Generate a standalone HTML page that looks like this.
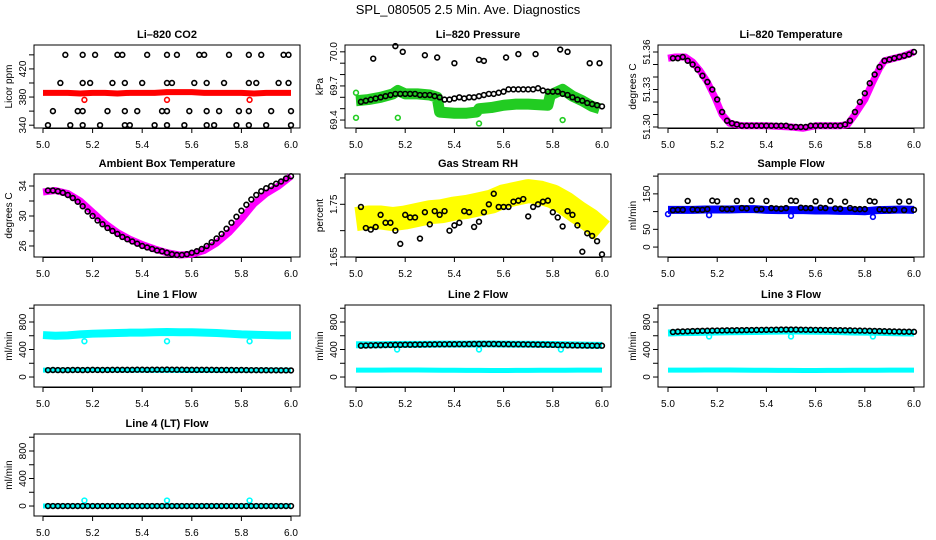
<!DOCTYPE html>
<html><head><meta charset="utf-8">
<style>
html,body{margin:0;padding:0;background:#fff;}
svg{display:block;font-family:"Liberation Sans",Arial,sans-serif;}
</style></head>
<body>
<svg id="chart" width="936" height="540" viewBox="0 0 936 540">
<text x="468" y="14" text-anchor="middle" font-size="13">SPL_080505  2.5 Min. Ave. Diagnostics</text>
</svg>
<script>
// ---- shared data ----
const xTicks = [5.0, 5.2, 5.4, 5.6, 5.8, 6.0];
const xTickLabels = ["5.0", "5.2", "5.4", "5.6", "5.8", "6.0"];
const blackT = [5.02,5.04,5.06,5.08,5.10,5.12,5.14,5.16,5.18,5.20,5.22,5.24,5.26,5.28,5.30,5.32,5.34,5.36,5.38,5.40,5.42,5.44,5.46,5.48,5.50,5.52,5.54,5.56,5.58,5.60,5.62,5.64,5.66,5.68,5.70,5.72,5.74,5.76,5.78,5.80,5.82,5.84,5.86,5.88,5.90,5.92,5.94,5.96,5.98,6.00];
const bandT = [5.0,5.05,5.1,5.15,5.2,5.25,5.3,5.35,5.4,5.45,5.5,5.55,5.6,5.65,5.7,5.75,5.8,5.85,5.9,5.95,6.0];
const outT = [5.167, 5.5, 5.833];

// CO2
const co2BandY = [386,386,386,385,386,386,385,386,386,386,387,387,387,386,386,386,386,385,386,386,386];
const co2OutX = [5.167,5.5,5.833];
const co2OutY = [376,376,376];
const co2BlackX = [5.09,5.16,5.21,5.30,5.32,5.42,5.50,5.54,5.63,5.65,5.75,5.83,5.88,5.97,5.99,5.07,5.16,5.19,5.28,5.33,5.40,5.50,5.52,5.61,5.66,5.73,5.83,5.86,5.95,5.99,5.04,5.14,5.16,5.26,5.33,5.38,5.48,5.50,5.59,5.66,5.71,5.79,5.83,5.92,6.0,5.02,5.11,5.16,5.23,5.33,5.35,5.45,5.50,5.57,5.66,5.69,5.78,5.83,5.90,6.0];
const co2BlackY = [440,440,440,440,440,440,440,440,440,440,440,440,440,440,440,400,400,400,400,400,400,400,400,400,400,400,400,400,400,400,360,360,360,360,360,360,360,360,360,360,360,360,360,360,360,340,340,340,340,340,340,340,340,340,340,340,340,340,340,340];

// Pressure
const presBandX = [5.0,5.05,5.1,5.15,5.17,5.2,5.25,5.3,5.33,5.34,5.4,5.45,5.49,5.5,5.55,5.6,5.65,5.7,5.78,5.79,5.82,5.84,5.88,5.92,5.96,5.99];
const presBandY = [69.57,69.58,69.60,69.63,69.66,69.63,69.63,69.62,69.60,69.47,69.46,69.46,69.47,69.50,69.51,69.53,69.54,69.54,69.53,69.62,69.65,69.67,69.61,69.57,69.52,69.50];
const presGreenOutX = [5.0,5.0,5.17,5.5,5.84];
const presGreenOutY = [69.42,69.64,69.42,69.37,69.40];
const presBlackY = [69.56,69.57,69.58,69.59,69.60,69.61,69.62,69.63,69.63,69.63,69.63,69.63,69.62,69.62,69.62,69.61,69.60,69.58,69.58,69.59,69.60,69.59,69.60,69.60,69.61,69.62,69.63,69.63,69.64,69.65,69.67,69.67,69.67,69.67,69.67,69.67,69.68,69.66,69.65,69.65,69.65,69.63,69.62,69.60,69.58,69.57,69.55,69.54,69.53,69.52];
const presHiX = [5.07,5.16,5.19,5.28,5.33,5.40,5.50,5.52,5.61,5.66,5.73,5.83,5.86,5.95,5.99];
const presHiY = [69.94,70.05,70.00,69.97,69.95,69.90,69.93,69.92,69.95,69.98,69.98,70.02,70.00,69.90,69.90];

// Li-820 temperature
const tempBandX = [5.0,5.03,5.07,5.1,5.13,5.16,5.19,5.22,5.25,5.3,5.4,5.5,5.55,5.6,5.7,5.73,5.76,5.8,5.83,5.86,5.88,5.92,5.96,6.0];
const tempBandY = [51.355,51.356,51.356,51.352,51.345,51.336,51.324,51.310,51.303,51.301,51.301,51.300,51.299,51.301,51.301,51.302,51.310,51.322,51.335,51.347,51.353,51.355,51.357,51.360];
const tempBlackY = [51.355,51.355,51.356,51.353,51.350,51.346,51.341,51.336,51.330,51.322,51.312,51.305,51.303,51.302,51.301,51.301,51.301,51.301,51.301,51.301,51.301,51.301,51.301,51.301,51.300,51.300,51.300,51.300,51.301,51.301,51.301,51.301,51.301,51.301,51.301,51.302,51.305,51.312,51.320,51.327,51.335,51.342,51.348,51.353,51.354,51.355,51.356,51.357,51.358,51.360];

// Ambient
const ambBandY = [33.2,33.4,33.0,32.0,30.5,29.0,27.8,26.9,26.2,25.6,25.1,24.8,24.9,25.4,26.4,27.8,29.6,31.6,33.0,34.0,35.3];
const ambBlackY = [33.4,33.4,33.3,33.1,32.8,32.4,31.9,31.3,30.6,30.0,29.4,28.9,28.4,28.0,27.6,27.2,26.9,26.6,26.3,26.0,25.8,25.6,25.4,25.3,25.1,24.9,24.8,24.8,24.9,25.1,25.3,25.6,26.0,26.5,27.0,27.6,28.3,29.1,29.9,30.7,31.5,32.2,32.8,33.3,33.7,34.0,34.3,34.6,35.0,35.3];

// RH
const rhBandY = [1.722,1.725,1.725,1.722,1.725,1.73,1.735,1.737,1.742,1.745,1.75,1.755,1.765,1.77,1.775,1.772,1.765,1.752,1.735,1.72,1.70];
const rhBlackY = [1.745,1.705,1.702,1.707,1.730,1.715,1.715,1.700,1.675,1.730,1.725,1.725,1.685,1.735,1.712,1.737,1.730,1.737,1.700,1.710,1.715,1.737,1.735,1.707,1.717,1.735,1.750,1.770,1.745,1.745,1.745,1.755,1.757,1.760,1.727,1.745,1.750,1.755,1.757,1.735,1.725,1.708,1.737,1.730,1.710,1.660,1.695,1.690,1.680,1.655];

// Sample flow
const sfBandY = [105,105,105,106,106,106,107,107,105,104,104,104,103,103,102,102,101,104,105,106,105];
const sfOutX = [5.0,5.167,5.5,5.833];
const sfOutY = [93,90,88,85];
const sfBlackY = [104,105,105,130,106,105,105,107,131,129,108,107,107,130,110,109,131,106,107,130,110,109,108,110,131,130,111,110,110,129,111,110,130,109,108,128,110,107,107,107,130,128,106,105,104,105,128,104,129,105];

// Line flows
const lowCyanY = [100,100,100,102,103,103,100,98,98,97,96,95,95,96,97,98,98,99,100,100,100];
const l1BandY = [610,600,605,620,630,635,640,645,645,650,655,650,650,645,640,630,620,615,610,605,605];
const l1OutY = [520,520,520];
const l1BlackY = [100,102,101,100,101,102,103,101,102,104,103,102,103,104,104,105,104,105,106,106,105,106,107,106,108,107,106,106,105,105,104,105,104,104,103,103,102,102,101,102,101,100,100,99,99,98,98,97,97,96];
const l2BandY = [470,468,470,472,474,475,476,478,478,479,480,480,478,477,476,475,473,470,465,462,460];
const l2OutY = [400,400,400];
const l2BlackY = [455,458,460,462,463,465,466,468,468,470,470,471,472,473,474,475,476,476,477,477,478,478,479,480,480,481,480,480,479,478,477,476,476,475,474,473,472,471,470,468,466,464,462,460,459,458,457,456,455,455];
const l3BandY = [640,645,648,650,655,658,660,662,665,668,670,668,665,663,660,655,652,650,645,642,640];
const l3OutY = [590,590,590];
const l3BlackY = [655,660,662,665,668,670,672,673,675,676,677,678,679,680,681,682,683,684,685,686,687,688,689,690,690,689,688,687,686,685,684,683,682,681,680,679,678,676,675,673,672,670,668,666,664,662,660,659,658,657];
const l4BandY = [0,0,0,0,0,0,0,0,0,0,0,0,0,0,0,0,0,0,0,0,0];
const l4OutY = [80,80,80];
const l4BlackY = [0,0,0,0,0,0,0,0,0,0,0,0,0,0,0,0,0,0,0,0,0,0,0,0,0,0,0,0,0,0,0,0,0,0,0,0,0,0,0,0,0,0,0,0,0,0,0,0,0,0];

// ---- rendering ----
const NS = "http://www.w3.org/2000/svg";
const svg = document.getElementById("chart");
function mk(tag, parent){ const e = document.createElementNS(NS, tag); parent.appendChild(e); return e; }
const cols = [{l:34,r:300,x0:43,x1:291},{l:345,r:611,x0:356,x1:602},{l:658,r:924,x0:668,x1:914}];
const rows = [{t:45,b:128},{t:174,b:257},{t:305,b:387},{t:434,b:516}];

function panel(name, title, ci, ri, ylo, yhi, yTicks, yLabels, ylab){
  const c = cols[ci], r = rows[ri];
  const g = mk("g", svg);
  
  
  const xs = v => c.x0 + (v - 5.0) * (c.x1 - c.x0);
  const ys = v => r.b - (v - ylo) / (yhi - ylo) * (r.b - r.t);
  const tt = mk("text", g);
  
  
  tt.setAttribute("x", (c.l + c.r) / 2); tt.setAttribute("y", r.t - 7);
  tt.setAttribute("text-anchor", "middle"); tt.setAttribute("font-size", "11"); tt.setAttribute("font-weight", "bold");
  tt.textContent = title;
  const box = mk("rect", g);
  
  
  box.setAttribute("x", c.l); box.setAttribute("y", r.t); box.setAttribute("width", c.r - c.l); box.setAttribute("height", r.b - r.t);
  box.setAttribute("fill", "none"); box.setAttribute("stroke", "#000"); box.setAttribute("stroke-width", "1");
  const xa = mk("g", g);
  
  
  const xl = mk("line", xa);
  xl.setAttribute("x1", xs(xTicks[0])); xl.setAttribute("x2", xs(xTicks[xTicks.length-1]));
  xl.setAttribute("y1", r.b + 0.5); xl.setAttribute("y2", r.b + 0.5); xl.setAttribute("stroke", "#000");
  xTicks.forEach((v, i) => {
    const tk = mk("line", xa);
    tk.setAttribute("x1", xs(v)); tk.setAttribute("x2", xs(v)); tk.setAttribute("y1", r.b); tk.setAttribute("y2", r.b + 5); tk.setAttribute("stroke", "#000");
    const lb = mk("text", xa);
    
    
    lb.setAttribute("x", xs(v)); lb.setAttribute("y", r.b + 20); lb.setAttribute("text-anchor", "middle"); lb.setAttribute("font-size", "10");
    lb.textContent = xTickLabels[i];
  });
  const ya = mk("g", g);
  
  
  const yl = mk("line", ya);
  yl.setAttribute("x1", c.l); yl.setAttribute("x2", c.l);
  yl.setAttribute("y1", ys(yTicks[0])); yl.setAttribute("y2", ys(yTicks[yTicks.length-1])); yl.setAttribute("stroke", "#000");
  yTicks.forEach((v, i) => {
    const tk = mk("line", ya);
    tk.setAttribute("x1", c.l - 5); tk.setAttribute("x2", c.l); tk.setAttribute("y1", ys(v)); tk.setAttribute("y2", ys(v)); tk.setAttribute("stroke", "#000");
    if (yLabels[i]) {
      const lb = mk("text", ya);
      
      
      const px = c.l - 8, py = ys(v);
      lb.setAttribute("transform", `translate(${px},${py}) rotate(-90)`);
      lb.setAttribute("text-anchor", "middle"); lb.setAttribute("font-size", "10");
      lb.textContent = yLabels[i];
    }
  });
  const yt = mk("text", g);
  
  
  yt.setAttribute("transform", `translate(${c.l - 22},${(r.t + r.b) / 2}) rotate(-90)`);
  yt.setAttribute("text-anchor", "middle"); yt.setAttribute("font-size", "10");
  yt.textContent = ylab;
  const plot = mk("g", g);
  const cp = "clip-" + name;
  const cl = mk("clipPath", g); cl.setAttribute("id", cp);
  const cr = mk("rect", cl); cr.setAttribute("x", c.l); cr.setAttribute("y", r.t - 4); cr.setAttribute("width", c.r - c.l); cr.setAttribute("height", r.b - r.t + 8);
  plot.setAttribute("clip-path", `url(#${cp})`);
  return {g: plot, xs, ys, name};
}

function band(p, X, Y, color, w, nm){
  const pl = mk("polyline", p.g);
  
  
  pl.setAttribute("points", X.map((x, i) => p.xs(x) + "," + p.ys(Y[i])).join(" "));
  pl.setAttribute("fill", "none"); pl.setAttribute("stroke", color); pl.setAttribute("stroke-width", w);
  pl.setAttribute("stroke-linejoin", "round"); pl.setAttribute("stroke-linecap", "butt");
}
function pts(p, X, Y, color, nm, r){
  X.forEach((x, i) => {
    const c = mk("circle", p.g);
    
    
    c.setAttribute("cx", p.xs(x)); c.setAttribute("cy", p.ys(Y[i])); c.setAttribute("r", r || 2.4);
    c.setAttribute("fill", "none"); c.setAttribute("stroke", color); c.setAttribute("stroke-width", "1.6");
  });
}

let p = panel("co2-panel", "Li\u2013820 CO2", 0, 0, 336, 454, [340,360,380,400,420,440], ["340","","380","","420",""], "Licor ppm");
band(p, bandT, co2BandY, "#ff0000", 6, "co2-band");
pts(p, co2OutX, co2OutY, "#ff0000", "co2-outlier");
pts(p, co2BlackX, co2BlackY, "#000", "co2-average-point");

p = panel("pressure-panel", "Li\u2013820 Pressure", 1, 0, 69.33, 70.06, [69.4,69.5,69.6,69.7,69.8,69.9,70.0], ["69.4","","","69.7","","","70.0"], "kPa");
band(p, presBandX, presBandY, "#22cc22", 11, "pressure-band");
pts(p, presGreenOutX, presGreenOutY, "#22cc22", "pressure-outlier");
pts(p, blackT, presBlackY, "#000", "pressure-average-point");
pts(p, presHiX, presHiY, "#000", "pressure-average-high");

p = panel("li820-temp-panel", "Li\u2013820 Temperature", 2, 0, 51.2992, 51.3656, [51.30,51.31,51.32,51.33,51.34,51.35,51.36], ["51.30","","","51.33","","","51.36"], "degrees C");
band(p, tempBandX, tempBandY, "#ff00ff", 7, "li820-temp-band");
pts(p, blackT, tempBlackY, "#000", "li820-temp-average-point");

p = panel("ambient-temp-panel", "Ambient Box Temperature", 0, 1, 24.53, 35.6, [26,28,30,32,34], ["26","","30","","34"], "degrees C");
band(p, bandT, ambBandY, "#ff00ff", 7, "ambient-temp-band");
pts(p, blackT, ambBlackY, "#000", "ambient-temp-average-point");

p = panel("rh-panel", "Gas Stream RH", 1, 1, 1.65, 1.8075, [1.65,1.70,1.75,1.80], ["1.65","","1.75",""], "percent");
band(p, bandT, rhBandY, "#ffff00", 24, "rh-band");
pts(p, blackT, rhBlackY, "#000", "rh-average-point");

p = panel("sample-flow-panel", "Sample Flow", 2, 1, -28, 206, [0,50,100,150,200], ["0","50","","150",""], "ml/min");
band(p, bandT, sfBandY, "#0000ff", 8, "sample-flow-band");
pts(p, sfOutX, sfOutY, "#0000ff", "sample-flow-outlier");
pts(p, blackT, sfBlackY, "#000", "sample-flow-average-point");

const flowTicks = [0,200,400,600,800,1000];
const flowLabels = ["0","","400","","800",""];
p = panel("line1-panel", "Line 1 Flow", 0, 2, -145, 1047, flowTicks, flowLabels, "ml/min");
band(p, bandT, l1BandY, "#00ffff", 8, "line1-high-band");
band(p, bandT, lowCyanY, "#00ffff", 5, "line1-low-band");
pts(p, outT, l1OutY, "#00ffff", "line1-outlier");
pts(p, blackT, l1BlackY, "#000", "line1-average-point");

p = panel("line2-panel", "Line 2 Flow", 1, 2, -145, 1047, flowTicks, flowLabels, "ml/min");
band(p, bandT, l2BandY, "#00ffff", 7, "line2-high-band");
band(p, bandT, lowCyanY, "#00ffff", 5, "line2-low-band");
pts(p, outT, l2OutY, "#00ffff", "line2-outlier");
pts(p, blackT, l2BlackY, "#000", "line2-average-point");

p = panel("line3-panel", "Line 3 Flow", 2, 2, -145, 1047, flowTicks, flowLabels, "ml/min");
band(p, bandT, l3BandY, "#00ffff", 7, "line3-high-band");
band(p, bandT, lowCyanY, "#00ffff", 5, "line3-low-band");
pts(p, outT, l3OutY, "#00ffff", "line3-outlier");
pts(p, blackT, l3BlackY, "#000", "line3-average-point");

p = panel("line4-panel", "Line 4 (LT) Flow", 0, 3, -145, 1047, flowTicks, flowLabels, "ml/min");
band(p, bandT, l4BandY, "#00ffff", 5, "line4-band");
pts(p, outT, l4OutY, "#00ffff", "line4-outlier");
pts(p, blackT, l4BlackY, "#000", "line4-average-point");
</script>
</body></html>
